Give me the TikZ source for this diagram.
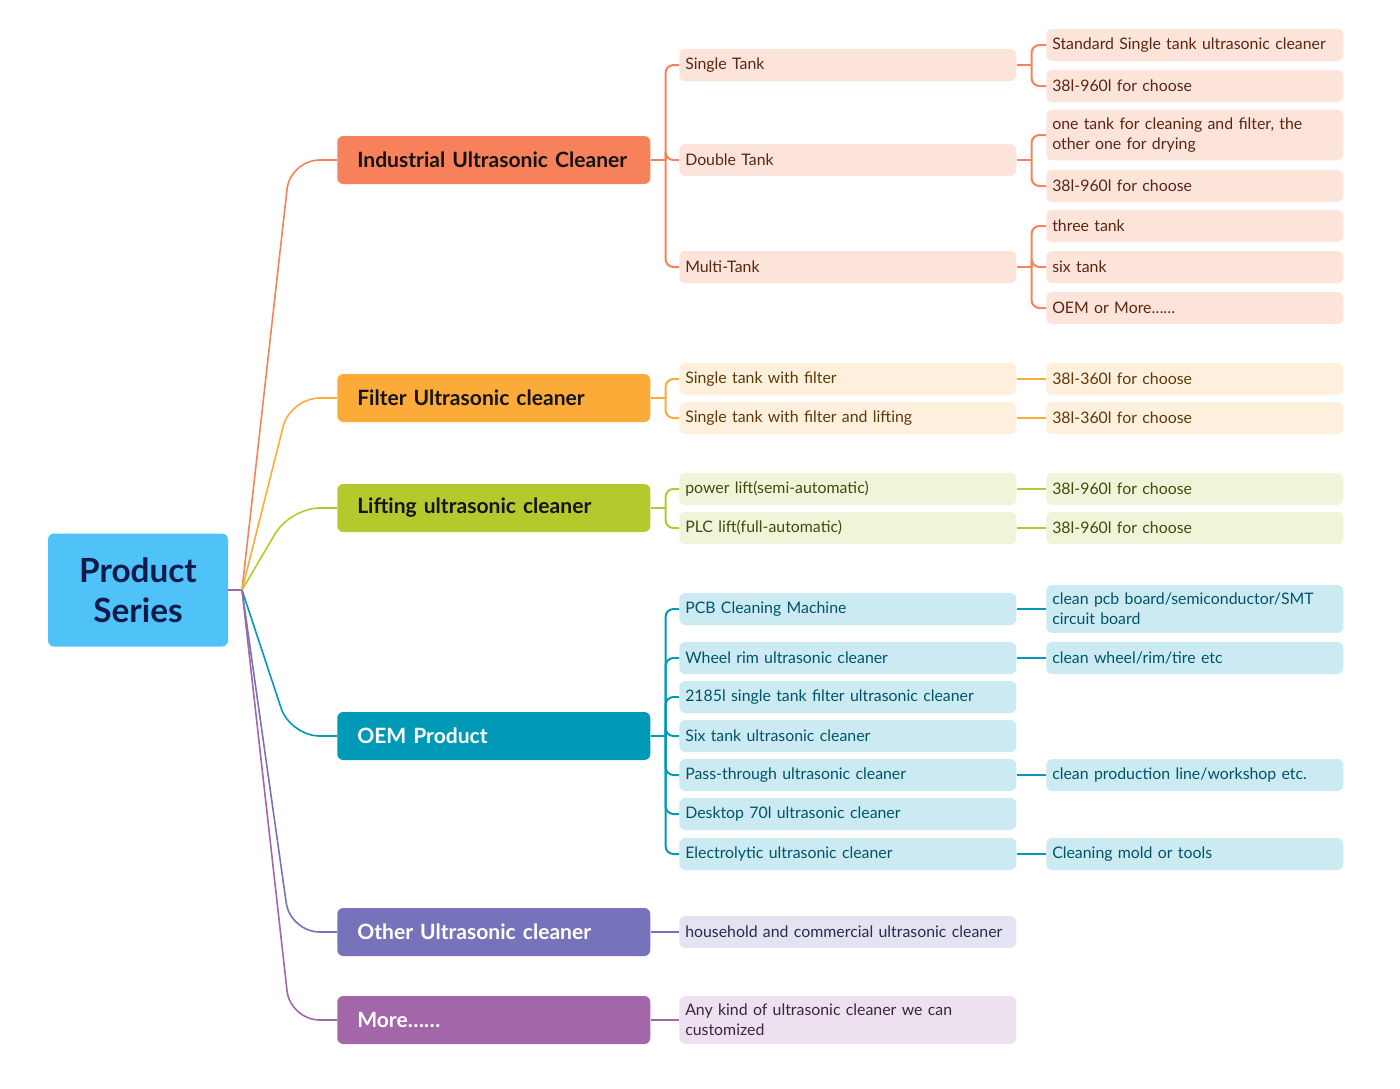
\documentclass[tikz,border=0pt]{standalone}
\usepackage{fontspec}
\setmainfont{Lato}

\definecolor{rootD}{HTML}{4FC3F7}
\definecolor{rootT}{HTML}{0D1B4C}
\definecolor{indD}{HTML}{F7815A}
\definecolor{indL}{HTML}{FDE4DB}
\definecolor{indT}{HTML}{5A2614}
\definecolor{indW}{HTML}{141414}
\definecolor{filtD}{HTML}{FDAB38}
\definecolor{filtL}{HTML}{FEF0DC}
\definecolor{filtT}{HTML}{5C3A0C}
\definecolor{filtW}{HTML}{141414}
\definecolor{liftD}{HTML}{B6C92C}
\definecolor{liftL}{HTML}{F1F4D8}
\definecolor{liftT}{HTML}{414B0F}
\definecolor{liftW}{HTML}{141414}
\definecolor{oemD}{HTML}{0099B8}
\definecolor{oemL}{HTML}{CCEAF1}
\definecolor{oemT}{HTML}{00546A}
\definecolor{oemW}{HTML}{FFFFFF}
\definecolor{otherD}{HTML}{7673BB}
\definecolor{otherL}{HTML}{E4E3F2}
\definecolor{otherT}{HTML}{2B2A50}
\definecolor{otherW}{HTML}{FFFFFF}
\definecolor{moreD}{HTML}{A266A9}
\definecolor{moreL}{HTML}{EDE1EF}
\definecolor{moreT}{HTML}{3D2342}
\definecolor{moreW}{HTML}{FFFFFF}

\begin{document}
\begin{tikzpicture}[x=0.75pt, y=-0.75pt,
  every node/.style={font=\fontsize{11.9pt}{15pt}\selectfont},
  leaf/.style={fill=#1L, text=#1T, rounded corners=4.5pt, anchor=west,
    align=left, inner xsep=4.5pt, inner ysep=6pt, minimum height=24pt},
  mid/.style={leaf=#1, text width=243.75pt},
  tip/.style={leaf=#1, text width=213.75pt},
  main/.style={fill=#1D, text=#1W, rounded corners=4.5pt, anchor=west,
    align=left, text width=204.75pt, inner xsep=15pt, minimum height=36pt,
    font=\fontsize{15.8pt}{18pt}\selectfont\bfseries},
  link/.style={draw=#1D, line width=1.5pt, rounded corners=6pt},
  branch/.style={draw=#1D, line width=1.2pt, rounded corners=22pt}]
\useasboundingbox (0,0) rectangle (1400,1089);

% root
\node[fill=rootD, text=rootT, rounded corners=4.5pt, minimum width=135pt,
  minimum height=84.75pt, align=center,
  font=\fontsize{25pt}{30pt}\selectfont\bfseries] (root) at (138,590) {Product\\Series};
\coordinate (hub) at (242,590);

% main branches
\node[main=ind]   (ind)   at (337,160)  {Industrial Ultrasonic Cleaner};
\node[main=filt]  (filt)  at (337,398)  {Filter Ultrasonic cleaner};
\node[main=lift]  (lift)  at (337,508)  {Lifting ultrasonic cleaner};
\node[main=oem]   (oem)   at (337,736)  {OEM Product};
\node[main=other] (other) at (337,932)  {Other Ultrasonic cleaner};
\node[main=more]  (more)  at (337,1020) {More\dots\dots};

\draw[branch=more]  (root.east) -- (hub);
\draw[branch=ind]   (hub) -- ([xshift=-35pt]ind.west) -- (ind.west);
\draw[branch=filt]  (hub) -- ([xshift=-35pt]filt.west) -- (filt.west);
\draw[branch=lift]  (hub) -- ([xshift=-35pt]lift.west) -- (lift.west);
\draw[branch=oem]   (hub) -- ([xshift=-35pt]oem.west) -- (oem.west);
\draw[branch=other] (hub) -- ([xshift=-35pt]other.west) -- (other.west);
\draw[branch=more]  (hub) -- ([xshift=-35pt]more.west) -- (more.west);

% Industrial
\draw[link=ind] (ind.east) -- ++(15,0);
\foreach \nm/\yy/\txt in {single/65/Single Tank, double/160/Double Tank,
    multi/267/Multi-Tank} {
  \node[mid=ind] (\nm) at (679,\yy) {\txt};
  \draw[link=ind] ([xshift=11.25pt]ind.east) |- (\nm.west);
}
\foreach \up in {single,double,multi} \draw[link=ind] (\up.east) -- ++(15,0);
\foreach \nm/\yy/\up/\txt in {
    stdsingle/45/single/{Standard Single tank ultrasonic cleaner},
    singlerange/86/single/{38l-960l for choose},
    onetank/135/double/{one tank for cleaning and filter, the\\other one for drying},
    doublerange/186/double/{38l-960l for choose},
    three/226/multi/{three tank},
    six/267/multi/{six tank},
    oemmore/308/multi/{OEM or More\dots\dots}} {
  \node[tip=ind] (\nm) at (1046,\yy) {\txt};
  \draw[link=ind] ([xshift=11.25pt]\up.east) |- (\nm.west);
}

% Filter
\draw[link=filt] (filt.east) -- ++(15,0);
\foreach \nm/\yy/\txt in {withfilter/379/Single tank with filter,
    withlifting/418/Single tank with filter and lifting} {
  \node[mid=filt] (\nm) at (679,\yy) {\txt};
  \draw[link=filt] ([xshift=11.25pt]filt.east) |- (\nm.west);
}
\foreach \nm/\yy/\up/\txt in {filtrangeA/379/withfilter/{38l-360l for choose},
    filtrangeB/418/withlifting/{38l-360l for choose}} {
  \node[tip=filt] (\nm) at (1046,\yy) {\txt};
  \draw[link=filt] (\up.east) -- (\nm.west);
}

% Lifting
\draw[link=lift] (lift.east) -- ++(15,0);
\foreach \nm/\yy/\txt in {powerlift/489/power lift(semi-automatic),
    plclift/528/PLC lift(full-automatic)} {
  \node[mid=lift] (\nm) at (679,\yy) {\txt};
  \draw[link=lift] ([xshift=11.25pt]lift.east) |- (\nm.west);
}
\foreach \nm/\yy/\up/\txt in {liftrangeA/489/powerlift/{38l-960l for choose},
    liftrangeB/528/plclift/{38l-960l for choose}} {
  \node[tip=lift] (\nm) at (1046,\yy) {\txt};
  \draw[link=lift] (\up.east) -- (\nm.west);
}

% OEM
\draw[link=oem] (oem.east) -- ++(15,0);
\foreach \nm/\yy/\txt in {pcb/609/PCB Cleaning Machine,
    wheel/658/Wheel rim ultrasonic cleaner,
    tank2185/697/2185l single tank filter ultrasonic cleaner,
    sixtank/736/Six tank ultrasonic cleaner,
    pass/775/Pass-through ultrasonic cleaner,
    desktop/814/Desktop 70l ultrasonic cleaner,
    electro/854/Electrolytic ultrasonic cleaner} {
  \node[mid=oem] (\nm) at (679,\yy) {\txt};
  \draw[link=oem] ([xshift=11.25pt]oem.east) |- (\nm.west);
}
\foreach \nm/\yy/\up/\txt in {
    pcbuse/609/pcb/{clean pcb board/semiconductor/SMT\\circuit board},
    wheeluse/658/wheel/{clean wheel/rim/tire etc},
    passuse/775/pass/{clean production line/workshop etc.},
    electrouse/854/electro/{Cleaning mold or tools}} {
  \node[tip=oem] (\nm) at (1046,\yy) {\txt};
  \draw[link=oem] (\up.east) -- (\nm.west);
}

% Other and More
\node[mid=other] (household) at (679,932) {household and commercial ultrasonic cleaner};
\draw[link=other] (other.east) -- (household.west);
\node[mid=more] (anykind) at (679,1020) {Any kind of ultrasonic cleaner we can\\customized};
\draw[link=more] (more.east) -- (anykind.west);
\end{tikzpicture}
\end{document}
